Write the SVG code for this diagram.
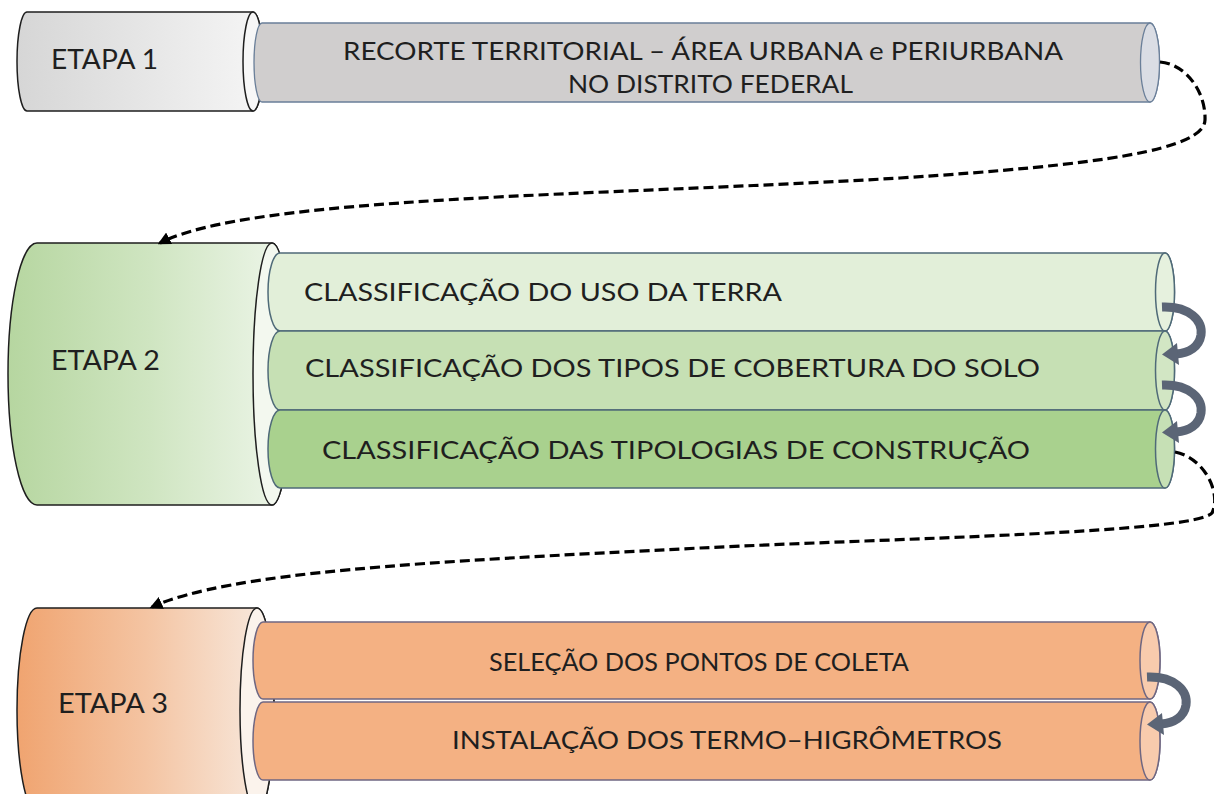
<svg xmlns="http://www.w3.org/2000/svg" width="1214" height="794" viewBox="0 0 1214 794">
<defs>
<linearGradient id="g1" x1="0" y1="0" x2="1" y2="0"><stop offset="0" stop-color="#d6d6d6"/><stop offset="1" stop-color="#f5f5f5"/></linearGradient>
<linearGradient id="g2" x1="0" y1="0" x2="1" y2="0"><stop offset="0" stop-color="#b6d6a0"/><stop offset="0.5" stop-color="#cfe5c1"/><stop offset="1" stop-color="#eef6ea"/></linearGradient>
<linearGradient id="g3" x1="0" y1="0" x2="1" y2="0"><stop offset="0" stop-color="#f0a470"/><stop offset="0.5" stop-color="#f4c4a2"/><stop offset="1" stop-color="#f8ebe1"/></linearGradient>
<marker id="ah" viewBox="0 0 10 10" refX="8" refY="5" markerWidth="4" markerHeight="4" orient="auto"><path d="M0,0 L10,5 L0,10 z" fill="#000"/></marker>
<g id="carrow">
<path d="M0,0 C28,-1 41,14 39,28 C37,40 27,46 14,47" fill="none" stroke="#5b6576" stroke-width="9"/>
<path d="M0,47.5 L15,36 L17,58 Z" fill="#5b6576"/>
</g>
</defs>
<style>
.outer{stroke:#1e1e1e;stroke-width:1.5}
.face{stroke:#1e1e1e;stroke-width:1.5}
.c1{fill:#d0cece;stroke:#6a7f99;stroke-width:1.3}
.e1{fill:#dadde4;stroke:#6a7f99;stroke-width:1.3}
.cg{stroke:#4f6a78;stroke-width:1.5}
.co{fill:#f4b183;stroke:#6f6782;stroke-width:1.5}
.eo{fill:#f8cbad;stroke:#6f6782;stroke-width:1.5}
text{font-family:Lato,"Noto Sans","DejaVu Sans",sans-serif;fill:#1f1f1f}
.lab{font-size:27px}
.t{font-size:25px}
.dash{fill:none;stroke:#000;stroke-width:3.2;stroke-dasharray:10 5}
</style>
<rect width="1214" height="794" fill="#ffffff"/>

<g id="etapa1">
<path class="outer" fill="url(#g1)" d="M27,12 L253,12 A10,49.5 0 0 1 253,111 L27,111 A10,49.5 0 0 1 27,12 Z"/>
<ellipse class="face" cx="253" cy="61.5" rx="10" ry="49.5" fill="#f7f7f7"/>
<text class="lab" x="51" y="69" textLength="107" lengthAdjust="spacingAndGlyphs">ETAPA 1</text>
</g>
<g id="recorte">
<path class="c1" d="M262,23 L1150,23 A9.5,39.5 0 0 1 1150,102 L262,102 A8,39.5 0 0 1 262,23 Z"/>
<ellipse class="e1" cx="1150" cy="62.5" rx="9.5" ry="39.5"/>
<text class="t" x="343" y="60" textLength="720" lengthAdjust="spacingAndGlyphs">RECORTE TERRITORIAL – ÁREA URBANA e PERIURBANA</text>
<text class="t" x="568" y="93" textLength="285" lengthAdjust="spacingAndGlyphs">NO DISTRITO FEDERAL</text>
</g>

<g id="etapa2">
<path class="outer" fill="url(#g2)" d="M37,243 L272,243 A19,131 0 0 1 272,505 L37,505 A29,131 0 0 1 37,243 Z"/>
<ellipse class="face" cx="272" cy="374" rx="19" ry="131" fill="#f3f8ef"/>
<text class="lab" x="51" y="370" textLength="109" lengthAdjust="spacingAndGlyphs">ETAPA 2</text>
</g>
<g id="uso">
<path class="cg" fill="#e2efd9" d="M280,253 L1165,253 A9.5,39 0 0 1 1165,331 L280,331 A12,39 0 0 1 280,253 Z"/>
<ellipse class="cg" cx="1165" cy="292" rx="9.5" ry="39" fill="#e6f1de"/>
<text class="t" x="304" y="301" textLength="478" lengthAdjust="spacingAndGlyphs">CLASSIFICAÇÃO DO USO DA TERRA</text>
</g>
<g id="cobertura">
<path class="cg" fill="#c6e0b4" d="M280,331 L1165,331 A9.5,39.5 0 0 1 1165,410 L280,410 A12,39.5 0 0 1 280,331 Z"/>
<ellipse class="cg" cx="1165" cy="370.5" rx="9.5" ry="39.5" fill="#d2e6c4"/>
<text class="t" x="305" y="377" textLength="735" lengthAdjust="spacingAndGlyphs">CLASSIFICAÇÃO DOS TIPOS DE COBERTURA DO SOLO</text>
</g>
<g id="tipologias">
<path class="cg" fill="#a9d18e" d="M280,410 L1165,410 A9.5,39 0 0 1 1165,488 L280,488 A12,39 0 0 1 280,410 Z"/>
<ellipse class="cg" cx="1165" cy="449" rx="9.5" ry="39" fill="#c6e0b5"/>
<text class="t" x="322" y="459" textLength="708" lengthAdjust="spacingAndGlyphs">CLASSIFICAÇÃO DAS TIPOLOGIAS DE CONSTRUÇÃO</text>
</g>

<g id="etapa3">
<path class="outer" fill="url(#g3)" d="M37,608 L257,608 A17,102 0 0 1 257,812 L37,812 A20,102 0 0 1 37,608 Z"/>
<ellipse class="face" cx="257" cy="710" rx="17" ry="102" fill="#fbf3ec"/>
<text class="lab" x="58" y="713" textLength="110" lengthAdjust="spacingAndGlyphs">ETAPA 3</text>
</g>
<g id="selecao">
<path class="co" d="M263,622 L1150,622 A10,38.5 0 0 1 1150,699 L263,699 A10,38.5 0 0 1 263,622 Z"/>
<ellipse class="eo" cx="1150" cy="660.5" rx="10" ry="38.5"/>
<text class="t" x="489" y="671" textLength="420" lengthAdjust="spacingAndGlyphs">SELEÇÃO DOS PONTOS DE COLETA</text>
</g>
<g id="instalacao">
<path class="co" d="M263,702 L1150,702 A10,39 0 0 1 1150,780 L263,780 A10,39 0 0 1 263,702 Z"/>
<ellipse class="eo" cx="1150" cy="741" rx="10" ry="39"/>
<text class="t" x="452" y="749" textLength="550" lengthAdjust="spacingAndGlyphs">INSTALAÇÃO DOS TERMO–HIGRÔMETROS</text>
</g>

<g id="connectors">
<path class="dash" marker-end="url(#ah)" d="M1160,62 C1186,64 1206,92 1205,120 C1204,150 1100,165 900,178 C600,196 250,196 160,243"/>
<path class="dash" marker-end="url(#ah)" d="M1175,452 C1203,457 1222,492 1212,513 C1195,533 900,538 700,548 C420,562 230,572 152,607"/>
<use href="#carrow" x="1162" y="307"/>
<use href="#carrow" x="1162" y="385"/>
<use href="#carrow" x="1147" y="677"/>
</g>
</svg>
